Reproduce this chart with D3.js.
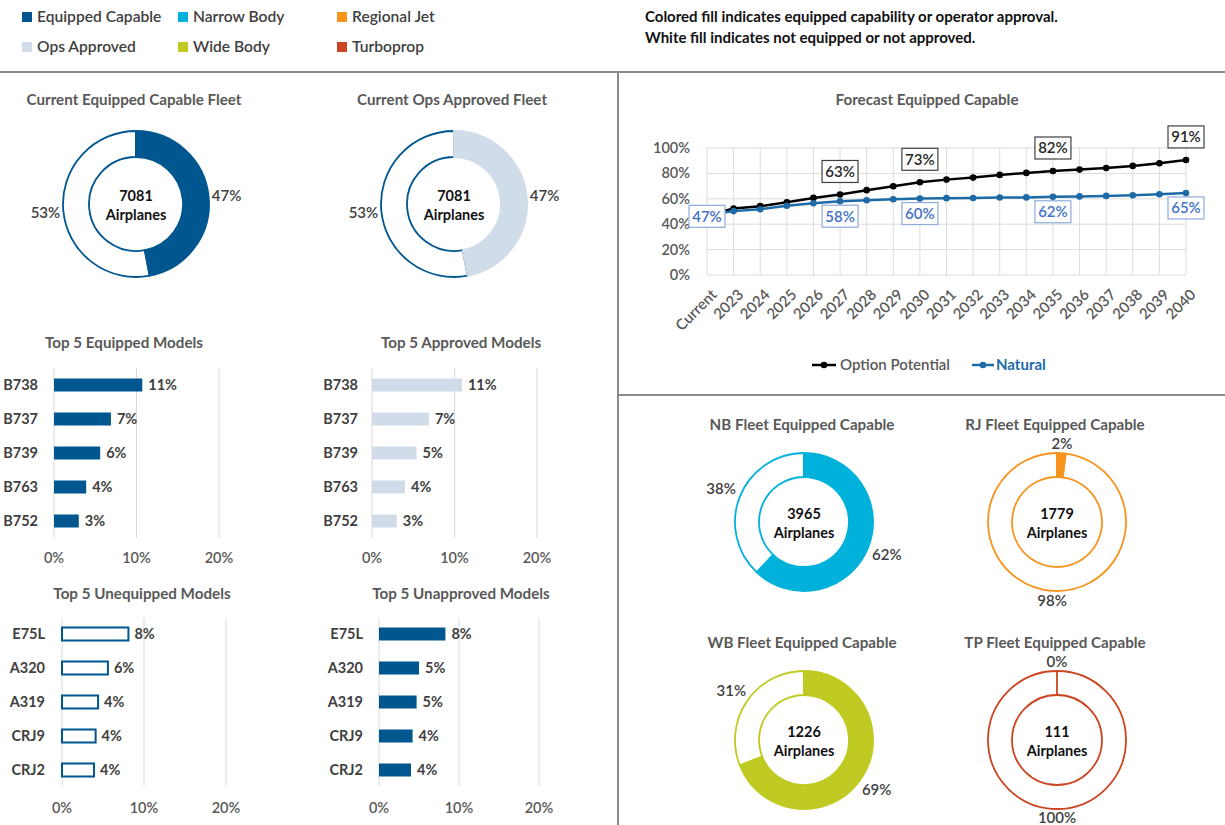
<!DOCTYPE html>
<html>
<head>
<meta charset="utf-8">
<script src="https://cdn.jsdelivr.net/npm/d3@7"></script>
<style>
  body { margin: 0; background: #fff; }
  text { font-family: Lato, "Open Sans", sans-serif; }
</style>
</head>
<body>
<svg id="dash" width="1225" height="825"></svg>
<script>
// legend
var legendNames = ["Equipped Capable", "Ops Approved", "Narrow Body", "Wide Body", "Regional Jet", "Turboprop"];
var legendColors = ["#00568f", "#d0dde9", "#00b1db", "#bfcb22", "#f7941d", "#cc4522"];
var noteLines = ["Colored fill indicates equipped capability or operator approval.",
                 "White fill indicates not equipped or not approved."];

// current fleet
var fleetTotal = 7081;
var equippedSplit = [47, 53];
var approvedSplit = [47, 53];

// top 5 models
var equippedModels = ["B738", "B737", "B739", "B763", "B752"];
var equippedPct = [10.7, 6.9, 5.6, 3.9, 3.0];
var approvedModels = ["B738", "B737", "B739", "B763", "B752"];
var approvedPct = [10.9, 6.9, 5.4, 4.0, 3.0];
var unequippedModels = ["E75L", "A320", "A319", "CRJ9", "CRJ2"];
var unequippedPct = [8.1, 5.6, 4.4, 4.1, 3.9];
var unapprovedModels = ["E75L", "A320", "A319", "CRJ9", "CRJ2"];
var unapprovedPct = [8.3, 5.0, 4.7, 4.2, 4.0];
var barTicks = [0, 10, 20];

// forecast
var years = ["Current", "2023", "2024", "2025", "2026", "2027", "2028", "2029", "2030", "2031",
             "2032", "2033", "2034", "2035", "2036", "2037", "2038", "2039", "2040"];
var optionPotential = [47, 52.4, 54.2, 57.3, 60.7, 63.4, 66.8, 69.9, 73.0, 75.1,
                       76.7, 78.8, 80.4, 81.9, 83.0, 84.3, 85.9, 88.0, 90.6];
var natural = [47, 50.3, 51.8, 54.5, 56.5, 58.1, 58.9, 59.7, 60.2, 60.5,
               60.6, 61.0, 61.1, 61.6, 61.9, 62.3, 62.8, 63.6, 64.6];
var optionLabelIdx = [5, 8, 13, 18];
var naturalLabelIdx = [0, 5, 8, 13, 18];
var yTicks = [0, 20, 40, 60, 80, 100];

// fleet by type
var typeTitles = ["NB Fleet Equipped Capable", "RJ Fleet Equipped Capable", "WB Fleet Equipped Capable", "TP Fleet Equipped Capable"];
var typeTotals = [3965, 1779, 1226, 111];
var typeEquipped = [62, 2, 69, 0];
var typeColors = ["#00b1db", "#f7941d", "#bfcb22", "#cc4522"];

var svg = d3.select("#dash");
var blue = "#00568f";
var titleColor = "#595959";
var labelColor = "#404040";

// ---- separators
svg.append("line").attr("x1", 0).attr("x2", 1225).attr("y1", 72).attr("y2", 72)
  .attr("stroke", "#8c8c8c").attr("stroke-width", 2);
svg.append("line").attr("x1", 618).attr("x2", 618).attr("y1", 72).attr("y2", 825)
  .attr("stroke", "#8c8c8c").attr("stroke-width", 2);
svg.append("line").attr("x1", 618).attr("x2", 1225).attr("y1", 395).attr("y2", 395)
  .attr("stroke", "#8c8c8c").attr("stroke-width", 2);

// ---- legend
var lg = svg.append("g").selectAll("g").data(legendNames).join("g")
  .attr("transform", function (d, i) {
    var col = Math.floor(i / 2), row = i % 2;
    return "translate(" + [22, 178, 337][col] + "," + (17 + row * 30) + ")";
  });
lg.append("rect").attr("x", 0).attr("y", -5).attr("width", 10).attr("height", 10)
  .attr("fill", function (d, i) { return legendColors[i]; });
lg.append("text").attr("x", 15).attr("dy", "0.35em").attr("font-size", 15.6)
  .attr("font-weight", 600).attr("fill", labelColor).text(function (d) { return d; });

svg.append("g").selectAll("text").data(noteLines).join("text")
  .attr("x", 645).attr("y", function (d, i) { return 17 + i * 21; }).attr("dy", "0.35em")
  .attr("font-size", 15).attr("font-weight", 700).attr("fill", "#111").text(function (d) { return d; });

// ---- donut helper
function donut(cx, cy, R, r, split, fillColor, strokeColor, total, title, titleY, labelR, filledStroke) {
  var g = svg.append("g").attr("transform", "translate(" + cx + "," + cy + ")");
  var pie = d3.pie().sort(null).value(function (d) { return d; });
  var arcs = pie(split);
  var arc = d3.arc().innerRadius(r).outerRadius(R);
  // white (remaining) slice first, then filled slice
  g.append("path").attr("d", arc(arcs[1])).attr("fill", "#fff")
    .attr("stroke", strokeColor).attr("stroke-width", 1.8);
  g.append("path").attr("d", arc(arcs[0])).attr("fill", fillColor)
    .attr("stroke", filledStroke).attr("stroke-width", 1.8);
  // labels sit outside; push sideways labels a bit further for text width
  function lr(d) {
    var a = (d.startAngle + d.endAngle) / 2;
    return labelR + 12 * Math.abs(Math.sin(a));
  }
  g.selectAll(".pl").data(arcs).join("text").attr("class", "pl")
    .attr("x", function (d) { return Math.sin((d.startAngle + d.endAngle) / 2) * lr(d); })
    .attr("y", function (d) { return -Math.cos((d.startAngle + d.endAngle) / 2) * lr(d); })
    .attr("dy", "0.35em").attr("text-anchor", "middle").attr("font-size", 15)
    .attr("font-weight", 600).attr("fill", labelColor)
    .text(function (d) { return d.data + "%"; });
  g.append("text").attr("y", -8).attr("dy", "0.35em").attr("text-anchor", "middle")
    .attr("font-size", 14.5).attr("font-weight", 700).attr("fill", "#111").text(total);
  g.append("text").attr("y", 11).attr("dy", "0.35em").attr("text-anchor", "middle")
    .attr("font-size", 14.5).attr("font-weight", 700).attr("fill", "#111").text("Airplanes");
  svg.append("text").attr("x", cx - 2).attr("y", titleY).attr("dy", "0.35em").attr("text-anchor", "middle")
    .attr("font-size", 15.2).attr("font-weight", 700).attr("fill", titleColor).text(title);
}

donut(136, 204, 73, 47, equippedSplit, blue, blue, fleetTotal, "Current Equipped Capable Fleet", 100, 79, blue);
donut(454, 204, 73, 47, approvedSplit, "#d0dde9", blue, fleetTotal, "Current Ops Approved Fleet", 100, 79, "#d0dde9");

typeTitles.forEach(function (t, i) {
  var cx = i % 2 === 0 ? 804 : 1057;
  var cy = i < 2 ? 522 : 740;
  var ty = i < 2 ? 425 : 643;
  donut(cx, cy, 69, 45, [typeEquipped[i], 100 - typeEquipped[i]], typeColors[i], typeColors[i],
        typeTotals[i], t, ty, 78, typeColors[i]);
});

// ---- bar chart helper
function barChart(x0, x1, labelX, models, pct, title, titleX, titleY, rowY, gridTop, gridBottom, tickY, hollow) {
  var g = svg.append("g");
  var x = d3.scaleLinear().domain([0, 20]).range([x0, x1]);
  var y = d3.scaleBand().domain(models).range([rowY - 17, rowY + 4 * 34 + 17]).paddingInner(0.6).paddingOuter(0.3);
  g.selectAll(".grid").data(barTicks).join("line").attr("class", "grid")
    .attr("x1", function (d) { return x(d); }).attr("x2", function (d) { return x(d); })
    .attr("y1", gridTop).attr("y2", gridBottom).attr("stroke", "#d9d9d9").attr("stroke-width", 1);
  g.selectAll(".tick").data(barTicks).join("text").attr("class", "tick")
    .attr("x", function (d) { return x(d); }).attr("y", tickY).attr("dy", "0.35em")
    .attr("text-anchor", "middle").attr("font-size", 14.5).attr("font-weight", 600)
    .attr("fill", titleColor).text(function (d) { return d + "%"; });
  var bh = 13;
  g.selectAll(".bar").data(models).join("rect").attr("class", "bar")
    .attr("x", x(0)).attr("y", function (d) { return y(d) + y.bandwidth() / 2 - bh / 2; })
    .attr("width", function (d, i) { return x(pct[i]) - x(0); }).attr("height", bh)
    .attr("fill", hollow ? "#fff" : (hollow === false ? blue : "#d0dde9"))
    .attr("stroke", hollow ? blue : "none").attr("stroke-width", 2);
  g.selectAll(".val").data(models).join("text").attr("class", "val")
    .attr("x", function (d, i) { return x(pct[i]) + 6; })
    .attr("y", function (d) { return y(d) + y.bandwidth() / 2; }).attr("dy", "0.35em")
    .attr("font-size", 14.5).attr("font-weight", 700).attr("fill", labelColor)
    .text(function (d, i) { return Math.round(pct[i]) + "%"; });
  g.selectAll(".cat").data(models).join("text").attr("class", "cat")
    .attr("x", labelX).attr("y", function (d) { return y(d) + y.bandwidth() / 2; }).attr("dy", "0.35em")
    .attr("text-anchor", "end").attr("font-size", 14.5).attr("font-weight", 700).attr("fill", labelColor)
    .text(function (d) { return d; });
  svg.append("text").attr("x", titleX).attr("y", titleY).attr("dy", "0.35em").attr("text-anchor", "middle")
    .attr("font-size", 15.2).attr("font-weight", 700).attr("fill", titleColor).text(title);
}

barChart(54, 219, 38, equippedModels, equippedPct, "Top 5 Equipped Models", 124, 343, 385, 368, 538, 558, false);
barChart(372, 537, 358, approvedModels, approvedPct, "Top 5 Approved Models", 461, 343, 385, 368, 538, 558, null);
barChart(62, 226, 45, unequippedModels, unequippedPct, "Top 5 Unequipped Models", 142, 594, 634, 618, 786, 808, true);
barChart(379, 539, 363, unapprovedModels, unapprovedPct, "Top 5 Unapproved Models", 461, 594, 634, 618, 786, 808, false);

// ---- forecast line chart
var fx = d3.scalePoint().domain(years).range([707, 1186]);
var fy = d3.scaleLinear().domain([0, 100]).range([275, 148]);
var fg = svg.append("g");

svg.append("text").attr("x", 927).attr("y", 100).attr("dy", "0.35em").attr("text-anchor", "middle")
  .attr("font-size", 15.2).attr("font-weight", 700).attr("fill", titleColor).text("Forecast Equipped Capable");

fg.selectAll(".hg").data(yTicks).join("line").attr("class", "hg")
  .attr("x1", 707).attr("x2", 1186).attr("y1", function (d) { return fy(d); }).attr("y2", function (d) { return fy(d); })
  .attr("stroke", "#dcdcdc");
fg.selectAll(".vg").data(years).join("line").attr("class", "vg")
  .attr("x1", function (d) { return fx(d); }).attr("x2", function (d) { return fx(d); })
  .attr("y1", fy(100)).attr("y2", fy(0)).attr("stroke", "#dcdcdc");
fg.selectAll(".yt").data(yTicks).join("text").attr("class", "yt")
  .attr("x", 690).attr("y", function (d) { return fy(d); }).attr("dy", "0.35em")
  .attr("text-anchor", "end").attr("font-size", 14.5).attr("font-weight", 600).attr("fill", titleColor)
  .text(function (d) { return d + "%"; });
fg.selectAll(".xt").data(years).join("text").attr("class", "xt")
  .attr("transform", function (d) { return "translate(" + (fx(d) + 7) + ",292) rotate(-45)"; })
  .attr("text-anchor", "end").attr("dy", "0.35em").attr("font-size", 15).attr("font-weight", 600)
  .attr("fill", titleColor).text(function (d) { return d; });

var natColor = "#1d6aa6";
var series = [
  { name: "Option Potential", values: optionPotential, color: "#000" },
  { name: "Natural", values: natural, color: natColor }
];
var line = d3.line().x(function (d, i) { return fx(years[i]); }).y(function (d) { return fy(d); });
series.forEach(function (s) {
  fg.append("path").attr("d", line(s.values)).attr("fill", "none").attr("stroke", s.color).attr("stroke-width", 2.5);
  fg.selectAll(null).data(s.values).join("circle")
    .attr("cx", function (d, i) { return fx(years[i]); }).attr("cy", function (d) { return fy(d); })
    .attr("r", 3.3).attr("fill", s.color);
});

function boxLabel(x, y, txt, stroke, color) {
  var w = 36, h = 22;
  fg.append("rect").attr("x", x - w / 2).attr("y", y - h / 2).attr("width", w).attr("height", h)
    .attr("fill", "#fff").attr("stroke", stroke).attr("stroke-width", 1.2);
  fg.append("text").attr("x", x).attr("y", y).attr("dy", "0.36em").attr("text-anchor", "middle")
    .attr("font-size", 15).attr("font-weight", 600).attr("fill", color).text(txt);
}
optionLabelIdx.forEach(function (i) {
  boxLabel(fx(years[i]), fy(optionPotential[i]) - 23, Math.round(optionPotential[i]) + "%", "#404040", "#262626");
});
naturalLabelIdx.forEach(function (i) {
  var dy = i === 0 ? 1 : 15;
  boxLabel(fx(years[i]), fy(natural[i]) + dy, Math.round(natural[i]) + "%", "#8faadc", "#4472c4");
});

// legend for forecast
var flg = svg.append("g").attr("transform", "translate(812,365)");
flg.append("line").attr("x1", 0).attr("x2", 24).attr("stroke", "#000").attr("stroke-width", 2.5);
flg.append("circle").attr("cx", 12).attr("r", 3.3).attr("fill", "#000");
flg.append("text").attr("x", 28).attr("dy", "0.35em").attr("font-size", 15).attr("font-weight", 600)
  .attr("fill", titleColor).text(series[0].name);
flg.append("line").attr("x1", 160).attr("x2", 182).attr("stroke", natColor).attr("stroke-width", 2.5);
flg.append("circle").attr("cx", 171).attr("r", 3.3).attr("fill", natColor);
flg.append("text").attr("x", 184).attr("dy", "0.35em").attr("font-size", 15).attr("font-weight", 700)
  .attr("fill", natColor).text(series[1].name);
</script>
</body>
</html>
